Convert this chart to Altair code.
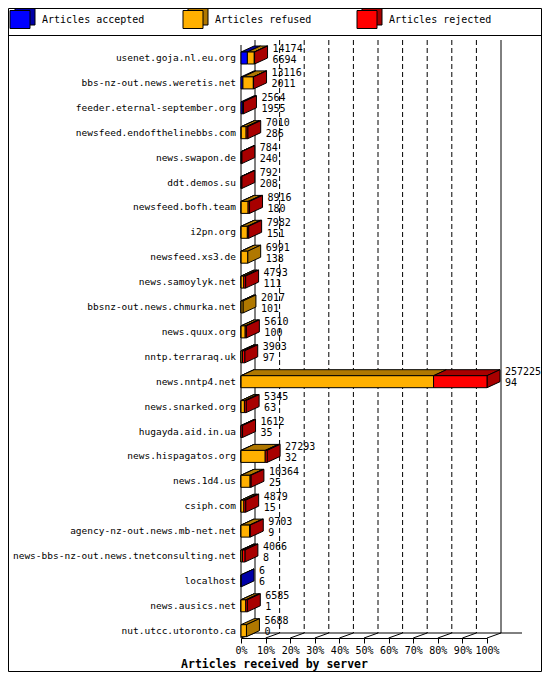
import altair as alt
import pandas as pd

SERVERS = [
    "usenet.goja.nl.eu.org",
    "bbs-nz-out.news.weretis.net",
    "feeder.eternal-september.org",
    "newsfeed.endofthelinebbs.com",
    "news.swapon.de",
    "ddt.demos.su",
    "newsfeed.bofh.team",
    "i2pn.org",
    "newsfeed.xs3.de",
    "news.samoylyk.net",
    "bbsnz-out.news.chmurka.net",
    "news.quux.org",
    "nntp.terraraq.uk",
    "news.nntp4.net",
    "news.snarked.org",
    "hugayda.aid.in.ua",
    "news.hispagatos.org",
    "news.1d4.us",
    "csiph.com",
    "agency-nz-out.news.mb-net.net",
    "news-bbs-nz-out.news.tnetconsulting.net",
    "localhost",
    "news.ausics.net",
    "nut.utcc.utoronto.ca",
]
TOTAL = [14174, 13116, 2564, 7010, 784, 792, 8916, 7982, 6991, 4793, 2017, 5610,
         3903, 257225, 5345, 1612, 27293, 10364, 4879, 9703, 4066, 6, 6585, 5688]
ACCEPTED = [6694, 2011, 1955, 286, 240, 208, 180, 151, 138, 111, 101, 100,
            97, 94, 63, 35, 32, 25, 15, 9, 8, 6, 1, 0]
REFUSED = [7200, 10900, 0, 5100, 0, 0, 7300, 6500, 6853, 2800, 1916, 4300,
           1500, 201250, 3500, 0, 25300, 9500, 3000, 8900, 1500, 0, 5000, 5688]
REJECTED = [280, 205, 609, 1624, 544, 584, 1436, 1331, 0, 1882, 0, 1210,
            2306, 55881, 1782, 1577, 1961, 839, 1864, 794, 2558, 0, 1584, 0]

LEGEND_LABELS = ["Articles accepted", "Articles refused", "Articles rejected"]
FRONT_COLORS = ["#0000FF", "#FFB000", "#FF0000"]
DARK_COLORS = ["#0000A8", "#B07800", "#A80000"]
TICK_PCTS = [0, 10, 20, 30, 40, 50, 60, 70, 80, 90, 100]
X_TITLE = "Articles received by server"

MONO = "DejaVu Sans Mono"

# ---- geometry (pixel layout converted to scale units) ----
W_TOTAL, H_VIEW, PAD_BOTTOM = 534, 630, 34
XMAX = max(TOTAL)
X_RANGE = [233, 479]
ROW0, STEP = 50, 24.9
N = len(SERVERS)
UPX = XMAX / (X_RANGE[1] - X_RANGE[0])


def xs(px):
    return px * UPX


def ys(px):
    return px / STEP


def yrow(py):
    return (py - ROW0) / STEP


HALF = ys(6)
BAR_DX, BAR_DY = xs(13), ys(6)
WALL_DX, WALL_DY = xs(14), ys(5)
FRONT_FLOOR = yrow(H_VIEW)
BACK_FLOOR = FRONT_FLOOR - WALL_DY
FRONT_TOP = yrow(37)
BACK_TOP = FRONT_TOP - WALL_DY

xscale = alt.Scale(domain=[0, XMAX], range=X_RANGE, nice=False, zero=False)
yscale = alt.Scale(domain=[0, N - 1], range=[ROW0, ROW0 + (N - 1) * STEP], nice=False, zero=False)

# ---- build tables ----
front, top, side, labels = [], [], [], []
for i, name in enumerate(SERVERS):
    cum = 0
    last = 0
    for k, vals in enumerate([ACCEPTED, REFUSED, REJECTED]):
        v = vals[i]
        if v <= 0:
            continue
        x0, x1 = cum, cum + v
        cum = x1
        sid = f"{i}-{k}"
        front.append(dict(x0=x0, x1=x1, y0=i - HALF, y1=i + HALF, fill=FRONT_COLORS[k]))
        top.append(dict(sid=sid, ty=i - HALF, a=x0, b=x1, fill=DARK_COLORS[k]))
        top.append(dict(sid=sid, ty=i - HALF - BAR_DY, a=x0 + BAR_DX, b=x1 + BAR_DX, fill=DARK_COLORS[k]))
        last = k
    side.append(dict(sid=str(i), sx=cum, s0=i - HALF, s1=i + HALF, fill=DARK_COLORS[last]))
    side.append(dict(sid=str(i), sx=cum + BAR_DX, s0=i - HALF - BAR_DY, s1=i + HALF - BAR_DY,
                     fill=DARK_COLORS[last]))
    labels.append(dict(row=i, server=name, total=str(TOTAL[i]), acc=str(ACCEPTED[i]), tx=cum + BAR_DX))

df_front = pd.DataFrame(front)
df_top = pd.DataFrame(top)
df_side = pd.DataFrame(side)
df_lab = pd.DataFrame(labels)

tick_vals = [XMAX * p / 100 for p in TICK_PCTS]

solid = [
    dict(x=0, x2=0, y=FRONT_TOP, y2=FRONT_FLOOR),
    dict(x=WALL_DX, x2=WALL_DX, y=BACK_TOP, y2=BACK_FLOOR),
    dict(x=XMAX + WALL_DX, x2=XMAX + WALL_DX, y=BACK_TOP, y2=BACK_FLOOR),
    dict(x=WALL_DX, x2=XMAX + WALL_DX + xs(21), y=BACK_FLOOR, y2=BACK_FLOOR),
]
for v in tick_vals:
    solid.append(dict(x=v, x2=v + WALL_DX, y=FRONT_FLOOR, y2=BACK_FLOOR))
df_solid = pd.DataFrame(solid)
df_dash = pd.DataFrame([dict(x=v + WALL_DX, x2=v + WALL_DX, y=BACK_TOP, y2=BACK_FLOOR)
                        for v in tick_vals[1:-1]])

X_AXIS = alt.Axis(
    values=tick_vals,
    labelExpr=f"round(datum.value / {XMAX} * 100) + '%'",
    grid=False, domain=True, domainColor="black", domainWidth=1,
    ticks=True, tickColor="black", tickSize=5, tickWidth=1,
    labelFont=MONO, labelFontSize=10, labelColor="black", labelPadding=2,
    labelOverlap=False, labelFlush=False,
    title=X_TITLE, titleFont=MONO, titleFontSize=11.5, titleFontWeight="bold",
    titleColor="black", titleX=W_TOTAL / 2 - 1, titleY=26, titleAlign="center",
    titleBaseline="middle",
)


def X(field):
    return alt.X(field, scale=xscale, axis=X_AXIS)


def Y(field, **kw):
    return alt.Y(field, scale=yscale, axis=None, **kw)


one = pd.DataFrame({"a": [0]})

layers = []
# walls and grid (first layer carries the x axis)
layers.append(alt.Chart(df_dash).mark_rule(color="black", strokeWidth=1, strokeDash=[5, 3]).encode(
    x=X("x:Q"), x2="x2:Q", y=Y("y:Q"), y2="y2:Q"))
layers.append(alt.Chart(df_solid).mark_rule(color="black", strokeWidth=1).encode(
    x=X("x:Q"), x2="x2:Q", y=Y("y:Q"), y2="y2:Q"))

# frame + legend
layers.append(alt.Chart(one).mark_rect(fillOpacity=0, stroke="black", strokeWidth=1).encode(
    x=alt.value(0.5), x2=alt.value(W_TOTAL - 0.5), y=alt.value(0.5), y2=alt.value(H_VIEW + PAD_BOTTOM - 0.5)))
layers.append(alt.Chart(one).mark_rule(color="black", strokeWidth=1).encode(
    x=alt.value(0), x2=alt.value(W_TOTAL), y=alt.value(27.5)))
LEGEND_X = [2, 175, 349]
for i, lab in enumerate(LEGEND_LABELS):
    cx = LEGEND_X[i]
    layers.append(alt.Chart(one).mark_rect(fill=DARK_COLORS[i], stroke="black", strokeWidth=1).encode(
        x=alt.value(cx + 5), x2=alt.value(cx + 25), y=alt.value(0.5), y2=alt.value(17)))
    layers.append(alt.Chart(one).mark_rect(fill=FRONT_COLORS[i], stroke="black", strokeWidth=1).encode(
        x=alt.value(cx), x2=alt.value(cx + 20), y=alt.value(2.5), y2=alt.value(20.5)))
    layers.append(alt.Chart(pd.DataFrame({"t": [lab]})).mark_text(
        align="left", baseline="middle", font=MONO, fontSize=10, color="black").encode(
        x=alt.value(cx + 32), y=alt.value(12), text="t:N"))

# 3D bars
layers.append(alt.Chart(df_top).mark_area(orient="horizontal", interpolate="linear",
                                          stroke="black", strokeWidth=1).encode(
    y=Y("ty:Q"),
    x=alt.X("a:Q", scale=xscale, axis=X_AXIS, stack=None), x2="b:Q",
    detail="sid:N", fill=alt.Fill("fill:N", scale=None)))
layers.append(alt.Chart(df_side).mark_area(orient="vertical", interpolate="linear",
                                           stroke="black", strokeWidth=1).encode(
    x=X("sx:Q"),
    y=Y("s0:Q", stack=None), y2="s1:Q",
    detail="sid:N", fill=alt.Fill("fill:N", scale=None)))
layers.append(alt.Chart(df_front).mark_rect(stroke="black", strokeWidth=1).encode(
    x=X("x0:Q"), x2="x1:Q", y=Y("y0:Q"), y2="y1:Q",
    fill=alt.Fill("fill:N", scale=None)))

# texts
layers.append(alt.Chart(df_lab).mark_text(align="left", baseline="middle", dx=5, dy=-9.5,
                                          font=MONO, fontSize=10, color="black").encode(
    x=X("tx:Q"), y=Y("row:Q"), text="total:N"))
layers.append(alt.Chart(df_lab).mark_text(align="left", baseline="middle", dx=5, dy=1.5,
                                          font=MONO, fontSize=10, color="black").encode(
    x=X("tx:Q"), y=Y("row:Q"), text="acc:N"))
layers.append(alt.Chart(df_lab).mark_text(align="right", baseline="middle",
                                          font=MONO, fontSize=9.5, color="black").encode(
    x=alt.value(X_RANGE[0] - 5), y=Y("row:Q"), text="server:N"))

chart = alt.layer(*layers).properties(
    width=W_TOTAL, height=H_VIEW,
    autosize=alt.AutoSizeParams(type="none"),
    padding={"left": 0, "right": 0, "top": 0, "bottom": PAD_BOTTOM},
    background="white",
).configure_view(stroke=None)

chart.save("out.html", embed_options={"renderer": "svg", "actions": False})
